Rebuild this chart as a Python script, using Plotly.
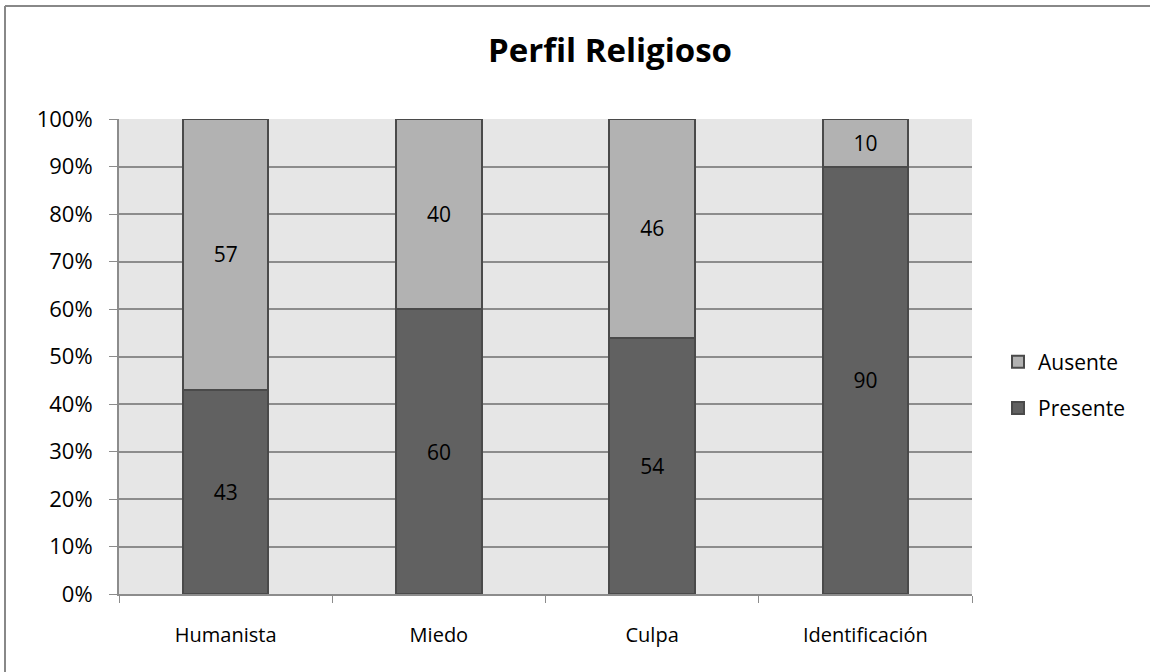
import plotly.graph_objects as go

categories = ["Humanista", "Miedo", "Culpa", "Identificación"]
presente = [43, 60, 54, 90]
ausente = [57, 40, 46, 10]

FONT = "Open Sans"
L, T, PW, PH = 119, 119, 853, 475

fig = go.Figure()
fig.add_trace(go.Bar(
    x=categories, y=presente, name="Presente", legendgroup="p", legendrank=2,
    marker=dict(color="#616161", line=dict(color="#4a4a4a", width=2)),
    text=presente, textposition="inside", insidetextanchor="middle",
    textfont=dict(color="black", size=21, family=FONT), width=0.4,
))
fig.add_trace(go.Bar(
    x=categories, y=ausente, name="Ausente", legendgroup="a", legendrank=1,
    marker=dict(color="#b2b2b2", line=dict(color="#4a4a4a", width=2)),
    text=ausente, textposition="inside", insidetextanchor="middle",
    textfont=dict(color="black", size=21, family=FONT), width=0.4,
))

fig.update_layout(
    width=1150, height=672,
    barmode="stack",
    paper_bgcolor="white", plot_bgcolor="#e6e6e6",
    margin=dict(l=L, r=1150 - L - PW, t=T, b=672 - T - PH),
    font=dict(family=FONT, size=20, color="black"),
    title=dict(text="<b>Perfil Religioso</b>", xref="paper", x=(610 - L) / PW,
               xanchor="center", y=1 - 50 / 672, yanchor="middle",
               font=dict(size=33, family=FONT)),
    legend=dict(x=(998 - L) / PW, xanchor="left", y=(594 - 385) / PH,
                yanchor="middle", font=dict(size=21, family=FONT),
                traceorder="grouped", tracegroupgap=16),
    showlegend=True,
    uniformtext=dict(minsize=10, mode="show"),
)
fig.update_yaxes(range=[0, 100], dtick=10, ticksuffix="%", showgrid=True,
                 gridcolor="#8c8c8c", gridwidth=1.5, showline=True,
                 linecolor="#8c8c8c", linewidth=2, ticks="outside",
                 ticklen=8, tickcolor="#8c8c8c", zeroline=False,
                 tickfont=dict(size=22), ticklabelstandoff=12)
fig.update_xaxes(showline=True, linecolor="#8c8c8c", linewidth=2,
                 ticks="outside", tickson="boundaries", ticklen=7,
                 tickcolor="#8c8c8c", tickfont=dict(size=20), ticklabelstandoff=22)

border = dict(color="#888888", width=2)
fig.add_shape(type="line", xref="paper", yref="paper",
              x0=(5 - L) / PW, x1=(1150 - L) / PW,
              y0=(594 - 6) / PH, y1=(594 - 6) / PH, line=border, layer="below")
fig.add_shape(type="line", xref="paper", yref="paper",
              x0=(5 - L) / PW, x1=(5 - L) / PW,
              y0=(594 - 6) / PH, y1=(594 - 672) / PH, line=border, layer="below")

fig.write_html("out.html", config={"displayModeBar": False},
               post_script="document.body.style.margin='0';")
